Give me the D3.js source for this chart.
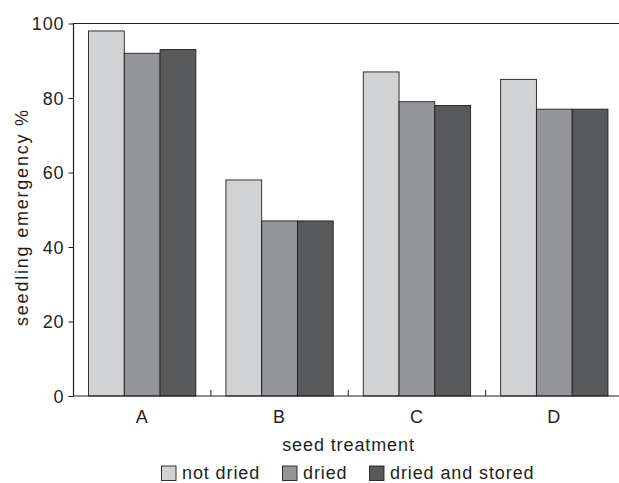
<!DOCTYPE html>
<html><head><meta charset="utf-8">
<script src="https://cdn.jsdelivr.net/npm/d3@7"></script>
<style>body{margin:0;background:#fff}text{font-family:"Liberation Sans",Arial,sans-serif;fill:#231f20;letter-spacing:0.9px}</style>
</head><body>
<svg id="c" width="619" height="483"></svg>
<script>
const categories = ["A","B","C","D"];
const series = ["not dried","dried","dried and stored"];
const notDried = [98,58,87,85];
const dried = [92,47,79,77];
const driedStored = [93,47,78,77];
const yTicks = [0,20,40,60,80,100];
const colors = ["#d1d2d4","#939598","#58595b"];

const values = [notDried, dried, driedStored];
const svg = d3.select("#c");
const L = 73.5, T = 23.5, B = 396, R = 623;
const FS = "18px";
const x = d3.scaleBand().domain(categories).range([L, R]).paddingInner(0).paddingOuter(0);
const xi = d3.scaleBand().domain(series).range([0, x.bandwidth()]).paddingInner(0).paddingOuter(0.42);
const y = d3.scaleLinear().domain([0,100]).range([B, T]);

// bars
categories.forEach((c, ci) => {
  series.forEach((s, si) => {
    svg.append("rect")
      .attr("x", x(c) + xi(s)).attr("y", y(values[si][ci]))
      .attr("width", xi.bandwidth()).attr("height", y(0) - y(values[si][ci]))
      .attr("fill", colors[si]).attr("stroke", "#231f20").attr("stroke-width", 0.9);
  });
});

// frame: top, left, bottom
svg.append("path").attr("d", `M${R},${T}H${L}V${B}H${R}`).attr("fill","none").attr("stroke","#231f20").attr("stroke-width",1.2);

// y axis
const ya = svg.append("g").attr("transform", `translate(${L},0)`)
  .call(d3.axisLeft(y).tickValues(yTicks).tickSize(5).tickPadding(4));
ya.select(".domain").remove();
ya.selectAll("line").attr("stroke","#231f20");
ya.selectAll("text").style("font-size",FS).attr("fill","#231f20").attr("dy","0.36em");

// x axis
const xa = svg.append("g").attr("transform", `translate(0,${B})`)
  .call(d3.axisBottom(x).tickSize(0).tickPadding(14));
xa.select(".domain").remove();
xa.selectAll("text").style("font-size",FS).attr("fill","#231f20");
// separator ticks between groups (inward)
categories.slice(1).forEach(c => {
  svg.append("line").attr("x1", x(c)).attr("x2", x(c)).attr("y1", B).attr("y2", B-6).attr("stroke","#231f20");
});

svg.append("text").attr("x", 348.5).attr("y", 451).attr("text-anchor","middle").style("font-size",FS).text("seed treatment");
svg.append("text").attr("transform", "translate(27.5,217.5) rotate(-90)").attr("text-anchor","middle")
  .attr("textLength", 217).attr("lengthAdjust","spacing").style("font-size",FS).text("seedling emergency %");

// legend
const lx = [161.5, 282.5, 369.5];
series.forEach((s, i) => {
  svg.append("rect").attr("x", lx[i]).attr("y", 466).attr("width", 14.5).attr("height", 14.5)
    .attr("fill", colors[i]).attr("stroke","#231f20").attr("stroke-width",0.9);
  svg.append("text").attr("x", lx[i] + 20.5).attr("y", 479).style("font-size",FS).text(s);
});
</script>
</body></html>
